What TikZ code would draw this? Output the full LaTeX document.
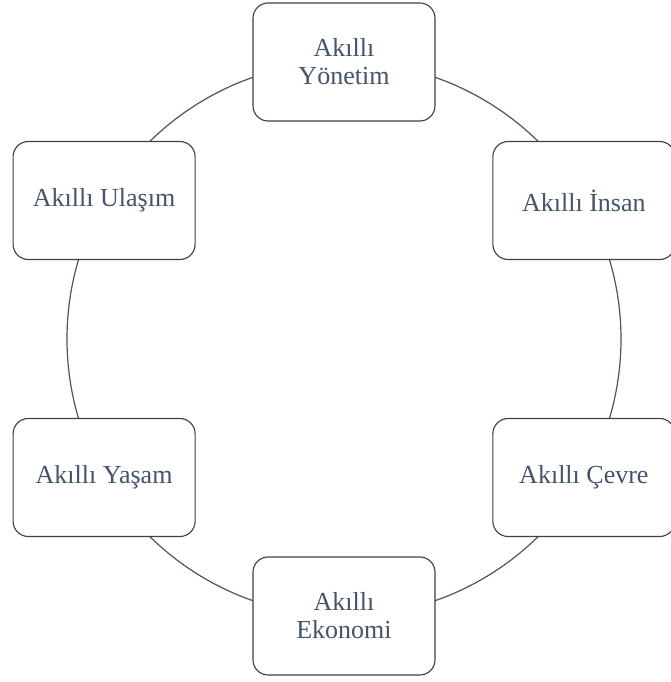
\documentclass[tikz,border=0pt]{standalone}
\usepackage{fontspec}
\setmainfont{Liberation Serif}
\definecolor{slate}{HTML}{44546A}
\definecolor{boxline}{HTML}{404040}
\tikzset{
  area/.style={rectangle, rounded corners=0.38cm, draw=boxline, fill=white,
    line width=0.8pt, minimum width=4.55cm, minimum height=2.95cm,
    inner sep=0pt, align=center, text=slate,
    font=\fontsize{18.5}{20}\selectfont},
  ring/.style={draw=slate, line width=0.85pt}
}
\begin{document}
\begin{tikzpicture}
    \useasboundingbox (-8.6,-8.575) rectangle (8.175,8.475);
    \coordinate (O) at (0,0);

    \draw[ring] (O) circle (6.925);

    \foreach \ang/\name/\txt in {90/yonetim/{Akıllı\\Yönetim},
                                 30/insan/{Akıllı İnsan},
                                 -30/cevre/{Akıllı Çevre},
                                 -90/ekonomi/{Akıllı\\Ekonomi},
                                 -150/yasam/{Akıllı Yaşam},
                                 150/ulasim/{Akıllı Ulaşım}}
        \node[area] (\name) at (\ang:6.925) {\txt};
\end{tikzpicture}
\end{document}
